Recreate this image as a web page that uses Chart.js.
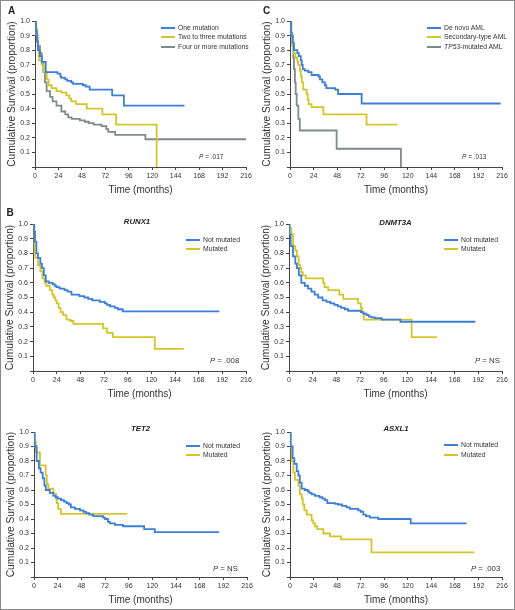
<!DOCTYPE html>
<html>
<head>
<meta charset="utf-8">
<script src="https://cdn.jsdelivr.net/npm/chart.js@4.4.1/dist/chart.umd.min.js"></script>
<style>
  body { margin: 0; background: #fff; }
  #page { position: relative; width: 515px; height: 610px; overflow: hidden; font-family: "Liberation Sans", Arial, sans-serif; color: #222; }
  #frame { position: absolute; left: 0; top: 0; width: 513px; height: 608px; border: 1px solid #8a8a8a; }
  canvas { position: absolute; }
  .lbl { position: absolute; white-space: nowrap; line-height: 1; transform: translateY(-50%); }
  .key { position: absolute; height: 2px; }
</style>
</head>
<body>
<div id="page"><div id="frame"></div></div>
<script>
// ---- data (months, survival proportion) ----
const aOneT = [0, 1, 2, 3, 5, 7, 11, 23, 26, 27, 31, 33, 37, 39, 49, 52, 56, 79, 91, 153];
const aOneS = [1, 0.93, 0.86, 0.8, 0.76, 0.72, 0.65, 0.64, 0.62, 0.61, 0.60, 0.59, 0.58, 0.57, 0.56, 0.55, 0.53, 0.49, 0.42, 0.42];
const aTwoT = [0, 1, 2, 3, 4, 7, 9, 12, 14, 17, 22, 27, 32, 35, 37, 42, 53, 69, 83, 124.5];
const aTwoS = [1, 0.95, 0.88, 0.8, 0.73, 0.70, 0.65, 0.60, 0.56, 0.54, 0.52, 0.51, 0.49, 0.47, 0.45, 0.43, 0.40, 0.36, 0.29, 0];
const aFourT = [0, 1, 2.7, 5, 6.8, 8.5, 10.2, 11.9, 15.4, 18, 22, 27, 31, 34, 37.5, 46, 51, 55, 60, 68, 73, 75, 82, 113, 216];
const aFourS = [1, 0.9, 0.83, 0.78, 0.72, 0.65, 0.58, 0.52, 0.48, 0.45, 0.42, 0.38, 0.36, 0.34, 0.33, 0.32, 0.31, 0.30, 0.29, 0.28, 0.26, 0.24, 0.22, 0.19, 0.19];

const cNovoT = [0, 1, 2.7, 4, 7.5, 9, 11, 12, 13, 15, 18.6, 22, 29, 30.5, 33, 35.6, 37, 46, 49, 73, 214.6];
const cNovoS = [1, 0.9, 0.85, 0.8, 0.78, 0.76, 0.73, 0.70, 0.67, 0.66, 0.65, 0.63, 0.62, 0.60, 0.58, 0.56, 0.54, 0.53, 0.50, 0.435, 0.435];
const cSecT = [0, 1.5, 3, 4, 5.5, 7.5, 8.5, 10, 11, 12, 13.5, 17, 18, 19, 22, 34, 78, 109.5];
const cSecS = [1, 0.9, 0.83, 0.78, 0.75, 0.72, 0.70, 0.66, 0.62, 0.58, 0.53, 0.50, 0.46, 0.43, 0.41, 0.36, 0.29, 0.29];
const cTp53T = [0, 1, 2.4, 3.4, 4, 5, 5.8, 6.8, 8.5, 10, 47.5, 113];
const cTp53S = [1, 0.92, 0.83, 0.75, 0.67, 0.58, 0.50, 0.42, 0.33, 0.25, 0.125, 0];

const rNotT = [0, 1, 2, 3.4, 5, 7.4, 9, 11, 12.9, 16, 20, 22, 23.7, 27, 32, 35, 39, 47, 52, 56, 60, 67.7, 72.8, 75, 78, 83, 86, 91, 189];
const rNotS = [1, 0.95, 0.88, 0.8, 0.77, 0.73, 0.70, 0.65, 0.61, 0.60, 0.59, 0.58, 0.57, 0.56, 0.55, 0.54, 0.52, 0.51, 0.50, 0.49, 0.48, 0.47, 0.46, 0.45, 0.44, 0.43, 0.42, 0.405, 0.405];
const rMutT = [0, 1.5, 2.3, 5, 7.4, 9.5, 11.8, 13.5, 17, 19.6, 21, 22.7, 24, 26, 28, 30.5, 34, 38, 41, 71, 75, 81, 123.5, 153];
const rMutS = [1, 0.8, 0.77, 0.72, 0.68, 0.63, 0.60, 0.58, 0.55, 0.52, 0.50, 0.48, 0.46, 0.43, 0.40, 0.38, 0.35, 0.34, 0.32, 0.29, 0.26, 0.23, 0.15, 0.15];

const dNotT = [0, 0.5, 1.7, 4, 6.4, 8, 10, 12.5, 16, 19.3, 22.7, 26, 29.5, 34, 38, 42, 46, 49.5, 53, 56.6, 60, 72.9, 75, 78.6, 81, 83.7, 87, 94, 113, 189];
const dNotS = [1, 0.93, 0.85, 0.78, 0.73, 0.70, 0.65, 0.60, 0.58, 0.56, 0.54, 0.52, 0.50, 0.48, 0.47, 0.46, 0.45, 0.44, 0.43, 0.42, 0.41, 0.40, 0.39, 0.38, 0.37, 0.365, 0.36, 0.35, 0.335, 0.335];
const dMutT = [0, 0.7, 2.4, 4, 6.4, 8, 9.8, 11.5, 12.5, 14, 17, 34.6, 36, 39.7, 51, 55, 70, 72.9, 74, 76, 124.4, 150];
const dMutS = [1, 0.97, 0.93, 0.85, 0.82, 0.78, 0.72, 0.70, 0.67, 0.65, 0.63, 0.60, 0.57, 0.55, 0.52, 0.49, 0.46, 0.43, 0.40, 0.35, 0.23, 0.23];

const tNotT = [0, 0.7, 2.7, 5, 6.7, 8.8, 10.5, 12, 16, 19.6, 22, 24, 27.3, 30.4, 33, 35.4, 37.4, 41.5, 46.6, 50, 52.6, 56, 60, 70, 72, 75, 77, 82, 90.4, 111.7, 122.5, 187.6];
const tNotS = [1, 0.9, 0.8, 0.75, 0.72, 0.68, 0.63, 0.60, 0.58, 0.56, 0.55, 0.54, 0.53, 0.52, 0.51, 0.50, 0.48, 0.47, 0.46, 0.45, 0.44, 0.43, 0.42, 0.41, 0.40, 0.38, 0.37, 0.36, 0.35, 0.33, 0.31, 0.31];
const tMutT = [0, 0.7, 2, 6, 11.8, 13, 14.5, 19.6, 22.3, 23, 24.6, 27.3, 94.5];
const tMutS = [1, 0.93, 0.86, 0.77, 0.70, 0.64, 0.61, 0.575, 0.54, 0.51, 0.47, 0.435, 0.435];

const sNotT = [0, 0.7, 2.7, 4.4, 6.8, 8.5, 10, 11.9, 15, 18, 19.7, 22, 25.4, 30, 33, 35.6, 38, 46, 49, 53, 57.6, 61, 69.5, 72, 74.7, 77.3, 81.4, 89.9, 123, 180];
const sNotS = [1, 0.9, 0.82, 0.78, 0.73, 0.70, 0.65, 0.61, 0.60, 0.59, 0.58, 0.57, 0.56, 0.55, 0.54, 0.53, 0.51, 0.505, 0.50, 0.49, 0.48, 0.47, 0.46, 0.45, 0.43, 0.42, 0.41, 0.40, 0.37, 0.37];
const sMutT = [0, 0.7, 1.7, 3.4, 5, 8.5, 10, 12, 13, 14.6, 17, 22, 23.7, 25.4, 27.8, 34, 40.7, 52, 83, 188];
const sMutS = [1, 0.9, 0.8, 0.72, 0.67, 0.63, 0.57, 0.54, 0.50, 0.46, 0.43, 0.39, 0.37, 0.35, 0.33, 0.30, 0.28, 0.26, 0.17, 0.17];

const xMax = 216;
const xStep = 24;
const yStep = 0.1;

const BLUE = "#3c7fd8";
const YELLOW = "#d5c52b";
const GRAY = "#7f8b8b";
const FONT = "'Liberation Sans', Arial, sans-serif";

const page = document.getElementById("page");

function pts(t, s) {
  return t.map((v, i) => ({ x: v, y: s[i] }));
}

function text(str, x, y, css, center) {
  const el = document.createElement("div");
  el.className = "lbl";
  el.innerHTML = str;
  el.style.left = x + "px";
  el.style.top = y + "px";
  el.style.cssText += css;
  if (center) el.style.transform = "translate(-50%, -50%)";
  page.appendChild(el);
}

// box: axis x at month 0, x at month 216, y at 1.0, y at 0
function panel(box, series, legend, title, pval) {
  const yAxisW = 33, xAxisH = 32, padT = 10, padR = 10;
  const cv = document.createElement("canvas");
  const w = box.x1 - box.x0 + yAxisW + padR;
  const h = box.y0 - box.y1 + padT + xAxisH;
  cv.width = w; cv.height = h;
  cv.style.left = (box.x0 - yAxisW) + "px";
  cv.style.top = (box.y1 - padT) + "px";
  cv.style.width = w + "px"; cv.style.height = h + "px";
  page.appendChild(cv);

  new Chart(cv, {
    type: "line",
    data: {
      datasets: series.map(s => ({
        data: pts(s.t, s.s),
        borderColor: s.color,
        borderWidth: 1.8,
        stepped: "before",
        pointRadius: 0,
        fill: false
      }))
    },
    options: {
      responsive: false,
      animation: false,
      layout: { padding: { top: padT, right: padR, left: 0, bottom: 0 } },
      plugins: { legend: { display: false }, tooltip: { enabled: false } },
      scales: {
        x: {
          type: "linear", min: 0, max: xMax,
          afterFit: sc => { sc.height = xAxisH; },
          ticks: { stepSize: xStep, color: "#333", padding: 2, maxRotation: 0,
                   font: { family: FONT, size: 7 } },
          grid: { drawOnChartArea: false, tickLength: 3, color: "#444" },
          border: { color: "#444" },
          title: { display: true, text: "Time (months)", color: "#333",
                   padding: { top: 0, bottom: 3 }, font: { family: FONT, size: 10 } }
        },
        y: {
          min: 0, max: 1,
          afterFit: sc => { sc.width = yAxisW; },
          ticks: { stepSize: yStep, color: "#333", padding: 2,
                   font: { family: FONT, size: 7 },
                   callback: v => v === 0 ? "" : v.toFixed(1) },
          grid: { drawOnChartArea: false, tickLength: 3, color: "#444" },
          border: { color: "#444" },
          title: { display: true, text: "Cumulative Survival (proportion)", color: "#333",
                   padding: { top: 4, bottom: 3 }, font: { family: FONT, size: 10.2 } }
        }
      }
    }
  });

  legend.items.forEach((it, i) => {
    const y = legend.y + i * legend.gap;
    const k = document.createElement("div");
    k.className = "key";
    k.style.left = legend.x + "px";
    k.style.top = (y - 1) + "px";
    k.style.width = "14px";
    k.style.background = it.color;
    page.appendChild(k);
    text(it.label, legend.x + 17, y, "font-size:" + legend.size + "px;color:#333;");
  });
  if (title) text(title.text, title.x, title.y, "font-size:7.8px;font-weight:bold;font-style:italic;", true);
  text(pval.text, pval.x, pval.y, "font-size:" + pval.size + "px;color:#333;");
}

panel({ x0: 35, x1: 246, y1: 21, y0: 167 },
  [{ t: aOneT, s: aOneS, color: BLUE }, { t: aTwoT, s: aTwoS, color: YELLOW }, { t: aFourT, s: aFourS, color: GRAY }],
  { x: 161, y: 28, gap: 9.3, size: 6.8, items: [
    { label: "One mutation", color: BLUE },
    { label: "Two to three mutations", color: YELLOW },
    { label: "Four or more mutations", color: GRAY }] },
  null, { text: "<i>P</i> = .017", x: 199, y: 157, size: 6.5 });

panel({ x0: 290, x1: 502, y1: 21, y0: 167 },
  [{ t: cNovoT, s: cNovoS, color: BLUE }, { t: cSecT, s: cSecS, color: YELLOW }, { t: cTp53T, s: cTp53S, color: GRAY }],
  { x: 427, y: 28, gap: 9.3, size: 6.8, items: [
    { label: "De novo AML", color: BLUE },
    { label: "Secondary-type AML", color: YELLOW },
    { label: "<i>TP53</i>-mutated AML", color: GRAY }] },
  null, { text: "<i>P</i> = .013", x: 462, y: 157, size: 6.5 });

panel({ x0: 33, x1: 246, y1: 224, y0: 371 },
  [{ t: rNotT, s: rNotS, color: BLUE }, { t: rMutT, s: rMutS, color: YELLOW }],
  { x: 186, y: 239.7, gap: 9.3, size: 6.8, items: [
    { label: "Not mutated", color: BLUE }, { label: "Mutated", color: YELLOW }] },
  { text: "RUNX1", x: 137, y: 222 }, { text: "<i>P</i> = .008", x: 210, y: 361, size: 7.8 });

panel({ x0: 289, x1: 502, y1: 224, y0: 371 },
  [{ t: dNotT, s: dNotS, color: BLUE }, { t: dMutT, s: dMutS, color: YELLOW }],
  { x: 444, y: 239.7, gap: 9.3, size: 6.8, items: [
    { label: "Not mutated", color: BLUE }, { label: "Mutated", color: YELLOW }] },
  { text: "DNMT3A", x: 395.5, y: 223 }, { text: "<i>P</i> = NS", x: 475, y: 361, size: 7.8 });

panel({ x0: 34, x1: 247, y1: 432, y0: 577 },
  [{ t: tNotT, s: tNotS, color: BLUE }, { t: tMutT, s: tMutS, color: YELLOW }],
  { x: 186, y: 445.7, gap: 9.3, size: 6.8, items: [
    { label: "Not mutated", color: BLUE }, { label: "Mutated", color: YELLOW }] },
  { text: "TET2", x: 140.5, y: 429 }, { text: "<i>P</i> = NS", x: 213, y: 569, size: 7.8 });

panel({ x0: 290, x1: 502, y1: 432, y0: 577 },
  [{ t: sNotT, s: sNotS, color: BLUE }, { t: sMutT, s: sMutS, color: YELLOW }],
  { x: 444, y: 445.3, gap: 9.3, size: 6.8, items: [
    { label: "Not mutated", color: BLUE }, { label: "Mutated", color: YELLOW }] },
  { text: "ASXL1", x: 396, y: 429 }, { text: "<i>P</i> = .003", x: 471, y: 569, size: 7.8 });

text("A", 11.5, 11, "font-size:10px;font-weight:bold;", true);
text("C", 266.5, 11, "font-size:10px;font-weight:bold;", true);
text("B", 10, 213, "font-size:10px;font-weight:bold;", true);
</script>
</body>
</html>
